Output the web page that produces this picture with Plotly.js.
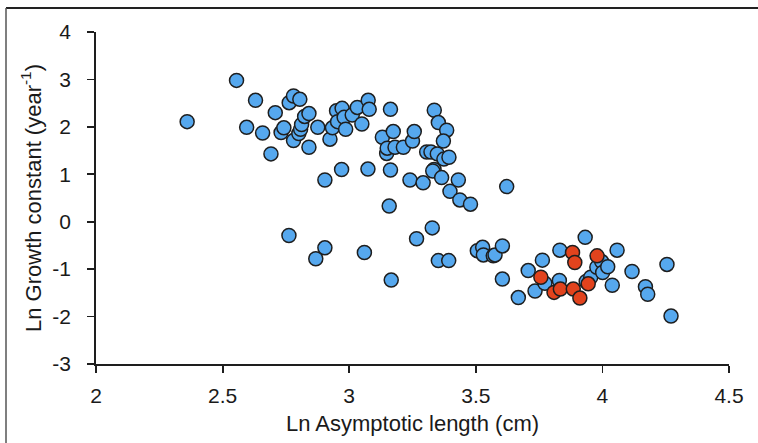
<!DOCTYPE html>
<html>
<head>
<meta charset="utf-8">
<script src="https://cdn.plot.ly/plotly-3.0.1.min.js"></script>
<style>
html,body{margin:0;padding:0;background:#fff;}
#chart{width:758px;height:443px;}
</style>
</head>
<body>
<div id="chart"></div>
<script>
// Blue series: Ln asymptotic length (cm) vs Ln growth constant (year^-1)
const blueX = [2.360,2.555,2.595,2.630,2.658,2.691,2.708,2.731,2.742,2.763,2.780,2.780,2.805,2.801,2.808,2.812,2.824,2.841,2.841,2.876,
  2.924,2.934,2.950,2.954,2.972,2.980,2.986,3.012,3.032,3.050,3.075,3.079,2.970,3.074,2.904,3.163,3.131,3.174,3.148,3.150,
  3.181,3.214,3.163,3.250,3.257,3.240,3.292,3.158,3.336,3.352,3.385,3.372,3.306,3.323,3.348,3.374,3.394,3.335,3.330,3.365,
  3.431,3.398,3.437,3.479,3.622,2.762,2.904,2.868,3.060,3.166,3.266,3.328,3.352,3.393,3.506,3.527,3.530,3.569,3.576,3.605,
  3.605,3.668,3.707,3.734,3.763,3.773,3.830,3.832,3.932,3.936,3.954,3.978,3.997,4.001,4.021,4.039,4.058,4.117,4.170,4.179,
  4.255,4.271];
const blueY = [2.11,2.98,1.99,2.56,1.87,1.43,2.30,1.88,1.98,2.51,2.65,1.71,2.58,1.86,1.95,2.05,2.22,2.28,1.57,1.99,
  1.74,1.98,2.34,2.11,2.39,2.20,1.95,2.25,2.41,2.06,2.56,2.37,1.10,1.11,0.88,2.37,1.78,1.90,1.44,1.55,
  1.57,1.57,1.09,1.70,1.90,0.88,0.82,0.33,2.35,2.09,1.93,1.70,1.47,1.47,1.43,1.32,1.36,1.10,1.07,0.93,
  0.88,0.64,0.46,0.37,0.74,-0.29,-0.55,-0.78,-0.65,-1.23,-0.36,-0.13,-0.82,-0.82,-0.61,-0.54,-0.70,-0.72,-0.70,-0.51,
  -1.21,-1.60,-1.03,-1.46,-0.81,-1.30,-1.24,-0.60,-0.33,-1.26,-1.17,-0.96,-0.84,-1.07,-0.95,-1.34,-0.60,-1.05,-1.37,-1.53,
  -0.90,-1.99];
// Red series
const redX = [3.757,3.809,3.834,3.882,3.891,3.885,3.911,3.944,3.979];
const redY = [-1.17,-1.49,-1.42,-0.65,-0.86,-1.42,-1.61,-1.31,-0.72];

const xTicks = [2, 2.5, 3, 3.5, 4, 4.5];
const xTickText = ['2','2.5','3','3.5','4','4.5'];
const yTicks = [-3,-2,-1,0,1,2,3,4];
const yTickText = ['-3','-2','-1','0','1','2','3','4'];

const lineCol = '#1e1e1e';
const font = 'Liberation Sans, Arial, sans-serif';

const traces = [
  {x: blueX, y: blueY, type:'scatter', mode:'markers', name:'blue',
   marker:{size:14, color:'#56A8EE', line:{color:'#1e1e1e', width:1.5}}, cliponaxis:false},
  {x: redX, y: redY, type:'scatter', mode:'markers', name:'red',
   marker:{size:14, color:'#E2431D', line:{color:'#1e1e1e', width:1.5}}, cliponaxis:false}
];

const layout = {
  width:758, height:443,
  margin:{l:96, r:29, t:32, b:79, pad:0},
  paper_bgcolor:'#fff', plot_bgcolor:'#fff',
  showlegend:false,
  font:{family:font, color:'#1a1a1a'},
  xaxis:{range:[2,4.5], tickvals:xTicks, ticktext:xTickText, showgrid:false, zeroline:false,
    showline:true, linecolor:lineCol, linewidth:1.8, ticks:'outside', ticklen:7, tickwidth:1.8, tickcolor:lineCol,
    tickfont:{size:21, family:font, color:'#1a1a1a'}, ticklabelstandoff:5,
    title:{text:'Ln Asymptotic length (cm)', font:{size:22, family:font, color:'#1a1a1a'}, standoff:9}},
  yaxis:{range:[-3,4], tickvals:yTicks, ticktext:yTickText, showgrid:false, zeroline:false,
    showline:true, linecolor:lineCol, linewidth:1.8, ticks:'outside', ticklen:7, tickwidth:1.8, tickcolor:lineCol,
    tickfont:{size:21, family:font, color:'#1a1a1a'}, ticklabelstandoff:12,
    title:{text:'Ln Growth constant (year<sup>-1</sup>)', font:{size:22, family:font, color:'#1a1a1a'}, standoff:5}},
  shapes:[
    {type:'line', xref:'paper', yref:'paper', x0:-90/633, x1:740/633, y0:1+24/332, y1:1+24/332,
     line:{color:'#222', width:2}},
    {type:'line', xref:'paper', yref:'paper', x0:-90/633, x1:-90/633, y0:-90/332, y1:1+24/332,
     line:{color:'#555', width:1.5}}
  ]
};

Plotly.newPlot('chart', traces, layout, {staticPlot:true, displayModeBar:false});
</script>
</body>
</html>
